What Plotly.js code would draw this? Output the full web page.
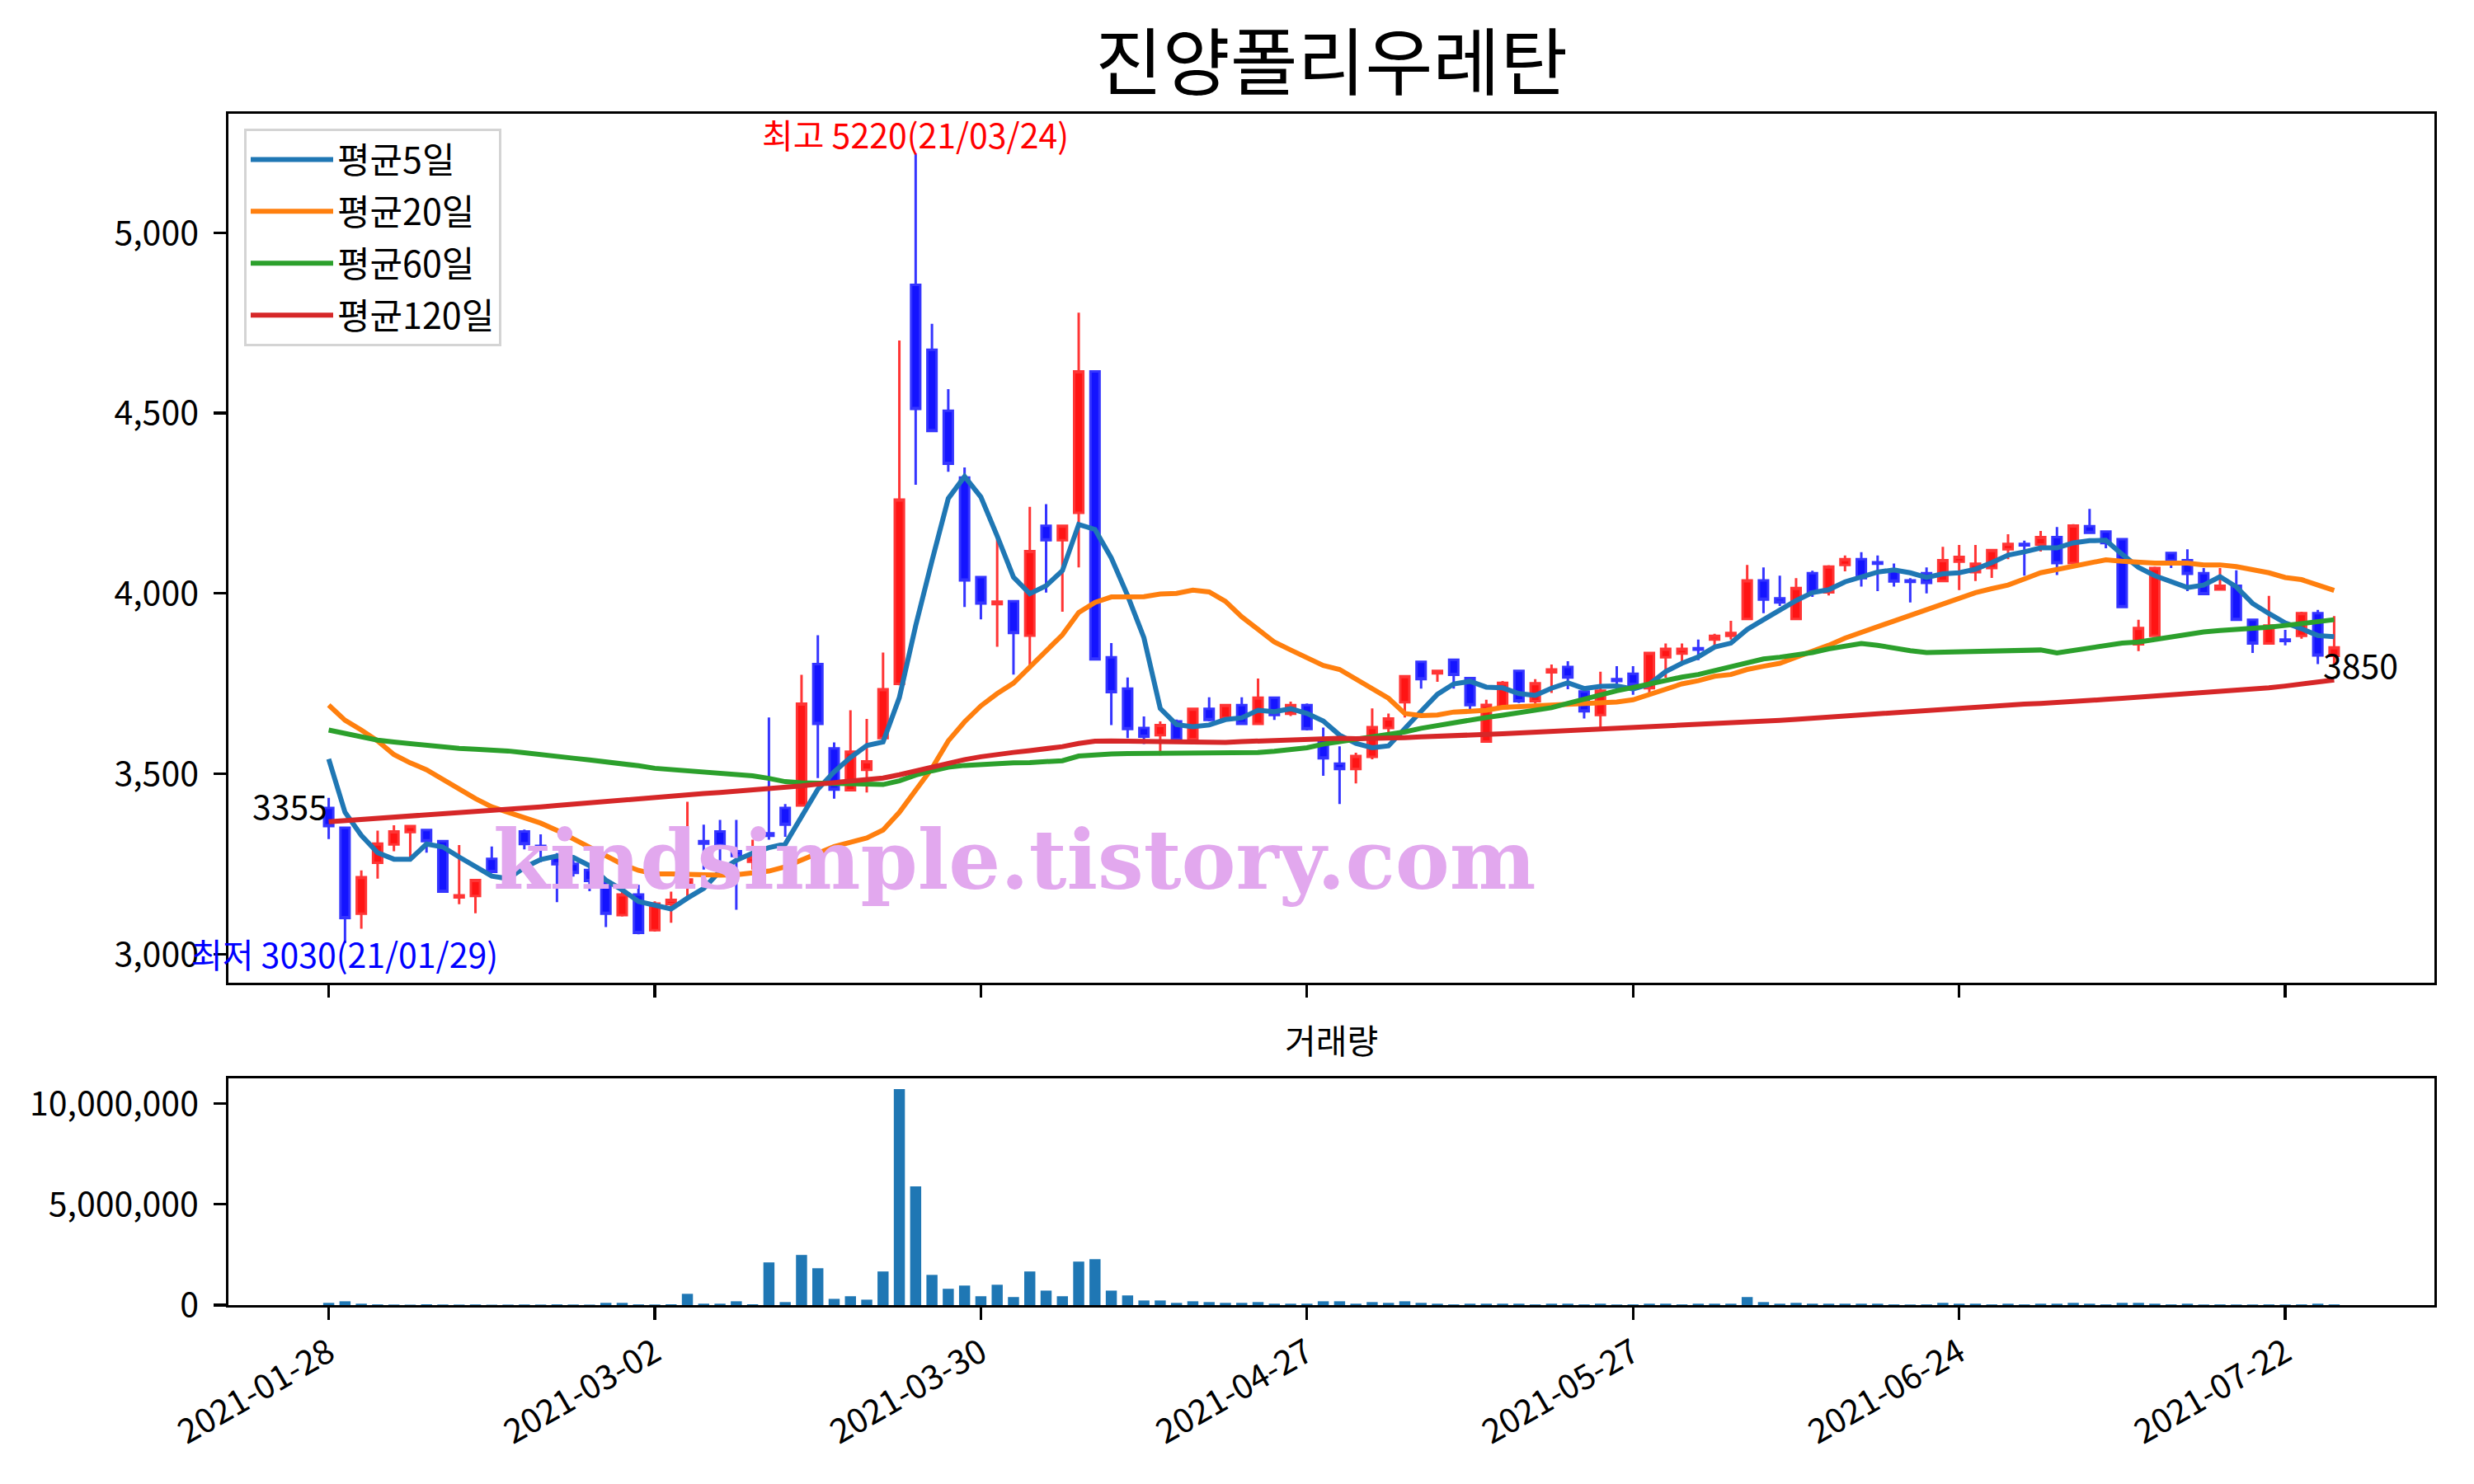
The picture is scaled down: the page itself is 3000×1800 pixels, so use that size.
<!DOCTYPE html>
<html>
<head>
<meta charset="utf-8">
<script src="https://cdn.plot.ly/plotly-3.0.1.min.js"></script>
<style>html,body{margin:0;padding:0;background:#fff;}#chart{width:3000px;height:1800px;}</style>
</head>
<body>
<div id="chart"></div>
<script>
const chartTitle = '진양폴리우레탄';
const volumeTitle = '거래량';
const legendNames = ['평균5일', '평균20일', '평균60일', '평균120일'];

const dates = [
'2021-01-28','2021-01-29','2021-02-01','2021-02-02','2021-02-03','2021-02-04','2021-02-05','2021-02-08','2021-02-09','2021-02-10',
'2021-02-15','2021-02-16','2021-02-17','2021-02-18','2021-02-19','2021-02-22','2021-02-23','2021-02-24','2021-02-25','2021-02-26',
'2021-03-02','2021-03-03','2021-03-04','2021-03-05','2021-03-08','2021-03-09','2021-03-10','2021-03-11','2021-03-12','2021-03-15',
'2021-03-16','2021-03-17','2021-03-18','2021-03-19','2021-03-22','2021-03-23','2021-03-24','2021-03-25','2021-03-26','2021-03-29',
'2021-03-30','2021-03-31','2021-04-01','2021-04-02','2021-04-05','2021-04-06','2021-04-07','2021-04-08','2021-04-09','2021-04-12',
'2021-04-13','2021-04-14','2021-04-15','2021-04-16','2021-04-19','2021-04-20','2021-04-21','2021-04-22','2021-04-23','2021-04-26',
'2021-04-27','2021-04-28','2021-04-29','2021-04-30','2021-05-03','2021-05-04','2021-05-06','2021-05-07','2021-05-10','2021-05-11',
'2021-05-12','2021-05-13','2021-05-14','2021-05-17','2021-05-18','2021-05-20','2021-05-21','2021-05-24','2021-05-25','2021-05-26',
'2021-05-27','2021-05-28','2021-05-31','2021-06-01','2021-06-02','2021-06-03','2021-06-04','2021-06-07','2021-06-08','2021-06-09',
'2021-06-10','2021-06-11','2021-06-14','2021-06-15','2021-06-16','2021-06-17','2021-06-18','2021-06-21','2021-06-22','2021-06-23',
'2021-06-24','2021-06-25','2021-06-28','2021-06-29','2021-06-30','2021-07-01','2021-07-02','2021-07-05','2021-07-06','2021-07-07',
'2021-07-08','2021-07-09','2021-07-12','2021-07-13','2021-07-14','2021-07-15','2021-07-16','2021-07-19','2021-07-20','2021-07-21',
'2021-07-22','2021-07-23','2021-07-26','2021-07-27'];

const tickDates = ['2021-01-28','2021-03-02','2021-03-30','2021-04-27','2021-05-27','2021-06-24','2021-07-22'];
const priceTicks = [3000, 3500, 4000, 4500, 5000];
const volumeTicks = [0, 5000000, 10000000];

const opens = [3405,3350,3112,3253,3304,3338,3344,3313,3157,3161, 3264,3233,3340,3300,3268,3250,3233,3200,3108,3165,
3066,3139,3192,3313,3340,3285,3256,3335,3405,3412, 3804,3570,3454,3511,3599,3749,4855,4675,4506,4321,
4045,3970,3978,3883,4187,4147,4223,4615,3823,3736, 3627,3607,3645,3596,3680,3655,3690,3638,3711,3666,
3690,3598,3528,3513,3547,3627,3698,3810,3778,3816, 3765,3589,3682,3785,3701,3781,3796,3728,3663,3762,
3777,3737,3823,3833,3848,3872,3882,3929,4036,3986, 3929,4056,4003,4079,4095,4086,4063,4036,4056,4034,
4088,4059,4070,4122,4137,4135,4156,4084,4186,4171, 4150,3859,3882,4112,4092,4056,4011,4021,3927,3861,
3872,3882,3945,3827];

const highs = [3433,3350,3232,3342,3357,3357,3344,3313,3302,3205, 3298,3280,3345,3332,3280,3262,3240,3210,3281,3192,
3146,3173,3422,3359,3372,3372,3317,3656,3416,3774, 3884,3587,3676,3652,3836,4701,5220,4747,4566,4349,
4045,4149,3978,4240,4247,4187,4778,4615,3862,3767, 3659,3645,3650,3680,3712,3690,3712,3764,3711,3700,
3695,3628,3576,3558,3681,3667,3772,3810,3785,3816, 3765,3705,3757,3785,3762,3803,3812,3728,3783,3798,
3798,3835,3861,3861,3872,3888,3924,4079,4072,4049, 4042,4063,4078,4105,4114,4105,4083,4042,4072,4129,
4134,4134,4120,4164,4146,4173,4184,4192,4234,4172, 4150,3927,4074,4112,4122,4070,4070,4064,3927,3993,
3899,3949,3954,3937];

const lows = [3319,3030,3070,3209,3285,3268,3281,3173,3138,3113, 3225,3230,3290,3255,3144,3215,3174,3075,3104,3055,
3062,3087,3150,3234,3234,3123,3234,3317,3325,3410, 3488,3431,3454,3448,3599,3745,4301,4450,4337,3962,
3928,3852,3775,3789,4002,3949,4072,3817,3635,3599, 3582,3551,3590,3590,3645,3650,3635,3638,3649,3660,
3620,3494,3416,3473,3540,3610,3656,3736,3755,3736, 3678,3589,3680,3696,3694,3724,3734,3653,3625,3732,
3719,3724,3766,3812,3815,3856,3872,3926,3945,3965, 3927,3990,3994,4061,4019,4006,4019,3975,4000,4033,
4009,4034,4043,4095,4049,4116,4051,4084,4165,4125, 3962,3840,3880,4070,4006,3998,4011,3927,3835,3861,
3856,3874,3804,3804];

const closes = [3355,3100,3213,3306,3340,3355,3313,3173,3163,3205, 3228,3275,3305,3290,3249,3225,3203,3112,3165,3059,
3140,3150,3207,3306,3300,3272,3268,3328,3359,3694, 3638,3456,3561,3534,3734,4260,4511,4450,4359,4036,
3972,3977,3890,4117,4147,4187,4615,3817,3726,3624, 3603,3635,3593,3680,3649,3690,3638,3711,3663,3690,
3624,3543,3513,3549,3629,3653,3770,3762,3785,3774, 3690,3691,3752,3701,3751,3789,3767,3673,3730,3757,
3747,3835,3846,3846,3844,3882,3890,4036,3983,3975, 4015,4003,4074,4095,4042,4082,4033,4032,4029,4092,
4101,4082,4120,4137,4133,4156,4084,4188,4168,4139, 3962,3904,4070,4089,4054,3998,4021,3927,3861,3911,
3868,3945,3828,3850];

const ma5 = [3541,3393,3329,3281,3263,3263,3305,3297,3269,3242, 3216,3209,3240,3262,3272,3268,3245,3205,3178,3146,
3136,3125,3155,3182,3230,3260,3280,3295,3305,3384, 3457,3505,3545,3578,3588,3711,3910,4090,4263,4324,
4267,4159,4045,3999,4021,4063,4191,4177,4098,3994, 3877,3681,3636,3630,3635,3650,3655,3676,3672,3680,
3667,3646,3607,3584,3572,3577,3623,3673,3720,3749, 3756,3740,3738,3722,3717,3737,3752,3736,3742,3743,
3735,3748,3783,3806,3824,3851,3862,3900,3927,3953, 3980,4002,4010,4032,4046,4059,4065,4057,4044,4054,
4057,4067,4085,4106,4115,4126,4126,4140,4146,4147, 4108,4072,4049,4033,4016,4023,4046,4018,3972,3944,
3918,3902,3883,3880];

const ma20 = [3690,3648,3621,3591,3553,3530,3511,3484,3458,3431, 3408,3392,3378,3363,3343,3320,3296,3272,3249,3232,
3222,3222,3220,3219,3219,3220,3224,3230,3242,3260, 3280,3298,3310,3322,3344,3393,3454,3515,3591,3644,
3688,3722,3751,3795,3837,3885,3947,3975,3990,3990, 3991,3998,4000,4009,4004,3978,3935,3900,3865,3843,
3822,3800,3789,3762,3737,3709,3667,3661,3663,3671, 3673,3676,3684,3686,3690,3693,3694,3696,3698,3699,
3705,3719,3735,3749,3758,3770,3775,3789,3798,3806, 3823,3838,3856,3876,3892,3907,3922,3941,3956,3971,
3988,4002,4013,4023,4040,4057,4066,4076,4086,4093, 4089,4086,4084,4084,4084,4079,4079,4074,4066,4057,
4044,4038,4023,4008];

const ma60 = [3621,3611,3600,3593,3588,3583,3578,3573,3570,3568, 3566,3563,3558,3552,3548,3543,3538,3533,3529,3522,
3515,3512,3509,3506,3503,3499,3494,3487,3478,3475, 3474,3473,3472,3471,3470,3480,3496,3508,3518,3523,
3526,3529,3530,3531,3533,3536,3549,3553,3555,3556, 3556,3556,3556,3556,3557,3557,3558,3559,3562,3566,
3572,3582,3589,3595,3601,3607,3616,3626,3634,3642, 3650,3656,3662,3668,3675,3683,3695,3707,3719,3730,
3739,3749,3757,3768,3775,3785,3796,3808,3818,3823, 3828,3836,3846,3854,3861,3856,3848,3841,3836,3837,
3840,3842,3843,3843,3843,3843,3835,3842,3850,3857, 3862,3865,3872,3880,3888,3893,3897,3899,3903,3906,
3911,3916,3922,3927];

const ma120 = [3367,3370,3373,3376,3379,3382,3385,3388,3390,3393, 3397,3400,3404,3408,3412,3416,3420,3424,3428,3432,
3436,3439,3442,3445,3448,3451,3455,3458,3462,3466, 3471,3475,3479,3483,3488,3497,3508,3519,3530,3539,
3547,3554,3559,3564,3569,3575,3584,3590,3591,3590, 3589,3588,3587,3586,3586,3587,3589,3591,3593,3595,
3597,3598,3598,3597,3597,3598,3600,3602,3603,3605, 3607,3609,3611,3613,3615,3617,3619,3621,3623,3625,
3627,3629,3631,3633,3635,3638,3640,3643,3645,3648, 3651,3654,3657,3661,3664,3668,3671,3675,3678,3681,
3684,3687,3689,3691,3693,3695,3697,3700,3703,3706, 3709,3712,3715,3718,3721,3724,3727,3730,3734,3738,
3743,3749,3754,3760];

const volumes = [110000,190000,70000,35000,28000,22000,40000,30000,26000,33000, 20000,25000,31000,27000,36000,29000,24000,110000,110000,35000,
30000,40000,560000,70000,70000,190000,40000,2120000,150000,2490000, 1830000,310000,440000,270000,1670000,10720000,5890000,1500000,810000,970000,
440000,1010000,400000,1670000,720000,440000,2160000,2280000,720000,480000, 230000,230000,110000,190000,150000,110000,110000,150000,70000,70000,
70000,190000,190000,70000,150000,110000,190000,110000,70000,35000, 70000,70000,70000,70000,35000,70000,70000,35000,70000,30000,
35000,70000,70000,35000,70000,70000,70000,400000,150000,70000, 110000,70000,70000,70000,70000,70000,35000,30000,35000,110000,
70000,70000,35000,70000,35000,70000,70000,110000,70000,35000, 110000,110000,70000,35000,70000,30000,35000,30000,30000,35000,
30000,35000,70000,35000];

const highIdx = 36, lowIdx = 1;
const highLabel = '최고 5220(21/03/24)';
const lowLabel = '최저 3030(21/01/29)';
const firstLabel = '3355';
const lastLabel = '3850';
const watermark = 'kindsimple.tistory.com';

const FONT = '"Noto Sans CJK KR", "Noto Sans", sans-serif';
const FS = 41;
const W = 3000, H = 1800;
const px = v => v / W;
const py = v => 1 - v / H;
const xDom = [px(277), px(2952)];
const xRange = [-6.15, 129.15];

const maColors = ['#1f77b4', '#ff7f0e', '#2ca02c', '#d62728'];
const maSeries = [ma5, ma20, ma60, ma120];

const traces = [];
traces.push({
  type: 'candlestick', x: dates, open: opens, high: highs, low: lows, close: closes,
  xaxis: 'x', yaxis: 'y', showlegend: false, whiskerwidth: 0,
  increasing: {line: {color: '#ff3535', width: 3}, fillcolor: '#ff1414'},
  decreasing: {line: {color: '#3535ff', width: 3}, fillcolor: '#1414ff'},
  hoverinfo: 'skip'
});
maSeries.forEach((s, i) => {
  traces.push({
    type: 'scatter', mode: 'lines', x: dates, y: s, name: legendNames[i], legendgroup: 'g' + i,
    xaxis: 'x', yaxis: 'y', line: {color: maColors[i], width: 6}
  });
});
traces.push({
  type: 'bar', x: dates, y: volumes, xaxis: 'x2', yaxis: 'y2', width: 0.68,
  marker: {color: '#1f77b4', line: {width: 0}}, showlegend: false
});

const axisCommon = {
  showgrid: false, zeroline: false, showline: true, mirror: true,
  linecolor: 'black', linewidth: 3.3, ticks: 'outside', ticklen: 14.6,
  tickwidth: 3.3, tickcolor: 'black', tickfont: {family: FONT, size: FS, color: 'black'}
};

const layout = {
  width: W, height: H,
  margin: {l: 0, r: 0, t: 0, b: 0},
  paper_bgcolor: 'white', plot_bgcolor: 'white',
  font: {family: FONT, size: FS, color: 'black'},
  boxgap: 0.2,
  bargap: 0.3,
  title: {text: chartTitle, font: {family: FONT, size: 89, color: 'black'},
          x: (277 + 2952) / 2 / W, xanchor: 'center', xref: 'paper',
          y: py(108), yanchor: 'bottom', yref: 'paper'},
  showlegend: true,
  legend: {x: px(296), y: py(156), xanchor: 'left', yanchor: 'top',
           bgcolor: 'white', bordercolor: '#d4d4d4', borderwidth: 3,
           font: {family: FONT, size: 43, color: 'black'}, itemwidth: 100,
           traceorder: 'grouped', tracegroupgap: 4},
  xaxis: Object.assign({}, axisCommon, {
    domain: xDom, anchor: 'y', type: 'category', range: xRange,
    tickmode: 'array', tickvals: tickDates, showticklabels: false,
    rangeslider: {visible: false}
  }),
  yaxis: Object.assign({}, axisCommon, {
    domain: [py(1192), py(138)], anchor: 'x', range: [2920.5, 5329.5],
    tickmode: 'array', tickvals: priceTicks, tickformat: ',', ticklabelstandoff: 10
  }),
  xaxis2: Object.assign({}, axisCommon, {
    domain: xDom, anchor: 'y2', type: 'category', range: xRange,
    tickmode: 'array', tickvals: tickDates, ticktext: tickDates, tickangle: -30
  }),
  yaxis2: Object.assign({}, axisCommon, {
    domain: [py(1583), py(1308)], anchor: 'x2', range: [0, 11256000],
    tickmode: 'array', tickvals: volumeTicks, tickformat: ',', ticklabelstandoff: 10
  }),
  annotations: [
    {x: dates[highIdx], y: highs[highIdx], xref: 'x', yref: 'y', text: highLabel, showarrow: false,
     xanchor: 'center', yanchor: 'bottom', yshift: -8, font: {family: FONT, size: FS, color: '#ff0000'}},
    {x: dates[lowIdx], y: lows[lowIdx], xref: 'x', yref: 'y', text: lowLabel, showarrow: false,
     xanchor: 'center', yanchor: 'top', yshift: 20, font: {family: FONT, size: FS, color: '#0000ff'}},
    {x: dates[0], y: closes[0], xref: 'x', yref: 'y', text: firstLabel, showarrow: false,
     xanchor: 'right', yanchor: 'bottom', yshift: -6, font: {family: FONT, size: FS, color: 'black'}},
    {x: dates[dates.length - 1], y: closes[closes.length - 1], xref: 'x', yref: 'y', text: lastLabel, showarrow: false,
     xanchor: 'left', yanchor: 'top', xshift: -15, yshift: 12, font: {family: FONT, size: FS, color: 'black'}},
    {x: (277 + 2952) / 2 / W, y: py(1292), xref: 'paper', yref: 'paper', text: volumeTitle, showarrow: false,
     xanchor: 'center', yanchor: 'bottom', font: {family: FONT, size: FS, color: 'black'}},
    {x: px(1230), y: py(1043), xref: 'paper', yref: 'paper', text: watermark, showarrow: false,
     xanchor: 'center', yanchor: 'middle',
     font: {family: '"DejaVu Serif", serif', size: 99, color: '#e2a8ee', weight: 'bold'}}
  ]
};

Plotly.newPlot('chart', traces, layout, {staticPlot: true, displayModeBar: false});
</script>
</body>
</html>
